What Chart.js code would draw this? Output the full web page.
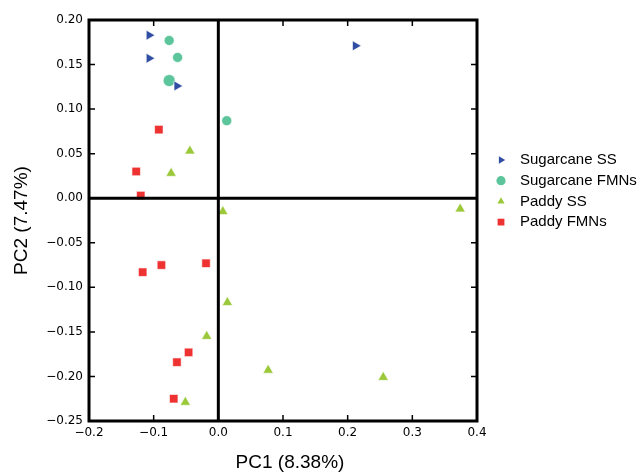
<!DOCTYPE html>
<html>
<head>
<meta charset="utf-8">
<script src="https://cdn.jsdelivr.net/npm/chart.js@4/dist/chart.umd.min.js"></script>
<style>
  html, body { margin: 0; padding: 0; background: #fff; }
  #wrap { width: 643px; height: 474px; }
</style>
</head>
<body>
<div id="wrap"><canvas id="chart" width="643" height="474"></canvas></div>
<script>
// PCA scores per group
const sugarcaneSS = [
    { x: -0.107, y: 0.183 }, { x: -0.107, y: 0.157 },
    { x: -0.064, y: 0.126 }, { x: 0.212, y: 0.171 }
];
const sugarcaneFMNs = [
    { x: -0.076, y: 0.177 }, { x: -0.063, y: 0.158 },
    { x: -0.076, y: 0.132 }, { x: 0.013, y: 0.087 }
];
const paddySS = [
    { x: -0.044, y: 0.053 }, { x: -0.073, y: 0.028 }, { x: 0.007, y: -0.015 },
    { x: 0.374, y: -0.012 }, { x: 0.014, y: -0.117 }, { x: -0.018, y: -0.155 },
    { x: 0.077, y: -0.193 }, { x: -0.051, y: -0.229 }, { x: 0.255, y: -0.201 }
];
const paddyFMNs = [
    { x: -0.092, y: 0.077 }, { x: -0.127, y: 0.030 }, { x: -0.120, y: 0.003 },
    { x: -0.117, y: -0.083 }, { x: -0.088, y: -0.075 }, { x: -0.019, y: -0.073 },
    { x: -0.046, y: -0.173 }, { x: -0.064, y: -0.184 }, { x: -0.069, y: -0.225 }
];
const xTicks = [-0.2, -0.1, 0.0, 0.1, 0.2, 0.3, 0.4];
const yTicks = [0.20, 0.15, 0.10, 0.05, 0.00, -0.05, -0.10, -0.15, -0.20, -0.25];
const xTitle = "PC1 (8.38%)";
const yTitle = "PC2 (7.47%)";

const fmt = (v, d) => (v < -1e-9 ? "\u2212" : "") + Math.abs(v).toFixed(d);
const titleFont = "19px 'Liberation Sans', Arial, sans-serif";

// frame, zero lines, inward ticks on all four sides, axis titles, legend
const framePlugin = {
    id: "frame",
    afterDatasetsDraw(chart) {
        const { ctx, chartArea: a, scales: { x, y } } = chart;
        ctx.save();
        ctx.strokeStyle = "#000";
        ctx.lineWidth = 3;
        const x0 = x.getPixelForValue(0), y0 = y.getPixelForValue(0);
        ctx.beginPath();
        ctx.moveTo(x0, a.top); ctx.lineTo(x0, a.bottom);
        ctx.moveTo(a.left, y0); ctx.lineTo(a.right, y0);
        ctx.stroke();
        ctx.strokeRect(a.left, a.top, a.right - a.left, a.bottom - a.top);
        ctx.lineWidth = 1.5;
        ctx.beginPath();
        xTicks.forEach(v => {
            const px = x.getPixelForValue(v);
            ctx.moveTo(px, a.bottom); ctx.lineTo(px, a.bottom - 6);
            ctx.moveTo(px, a.top); ctx.lineTo(px, a.top + 6);
        });
        yTicks.forEach(v => {
            const py = y.getPixelForValue(v);
            ctx.moveTo(a.left, py); ctx.lineTo(a.left + 6, py);
            ctx.moveTo(a.right, py); ctx.lineTo(a.right - 6, py);
        });
        ctx.stroke();
        ctx.restore();
    },
    afterDraw(chart) {
        const { ctx, chartArea: a } = chart;
        ctx.save();
        ctx.fillStyle = "#000";
        ctx.font = titleFont;
        ctx.textAlign = "center";
        ctx.textBaseline = "middle";
        ctx.fillText(xTitle, 290, 463);
        ctx.translate(22, (a.top + a.bottom) / 2);
        ctx.rotate(-Math.PI / 2);
        ctx.fillText(yTitle, 0, 0);
        ctx.restore();

        ctx.save();
        ctx.font = "15px 'Liberation Sans', Arial, sans-serif";
        ctx.textBaseline = "middle";
        chart.data.datasets.forEach((ds, i) => {
            const cy = 160 + i * 20.7;
            ctx.fillStyle = ds.backgroundColor;
            ctx.strokeStyle = ds.backgroundColor;
            Chart.helpers.drawPoint(ctx, {
                pointStyle: ds.pointStyle, radius: ds.legendRadius,
                rotation: ds.pointRotation, borderWidth: 0
            }, 501, cy);
            ctx.fillStyle = "#000";
            ctx.fillText(ds.label, 520, cy);
        });
        ctx.restore();
    }
};

new Chart(document.getElementById("chart"), {
    type: "scatter",
    data: {
        datasets: [
            { label: "Sugarcane SS", data: sugarcaneSS, pointStyle: "triangle", pointRotation: 90,
              backgroundColor: "#2f4ea3", pointRadius: 5.8, legendRadius: 4.2 },
            { label: "Sugarcane FMNs", data: sugarcaneFMNs, pointStyle: "circle",
              backgroundColor: "#5cc59b", pointRadius: [5, 5, 6, 5], legendRadius: 4.6 },
            { label: "Paddy SS", data: paddySS, pointStyle: "triangle",
              backgroundColor: "#9bc93a", pointRadius: 6, legendRadius: 4.2 },
            { label: "Paddy FMNs", data: paddyFMNs, pointStyle: "rect",
              backgroundColor: "#ee3232", pointRadius: 6, legendRadius: 4.8 }
        ].map(ds => Object.assign(ds, {
            pointRotation: ds.pointRotation || 0,
            pointBorderColor: "#ffffff",
            pointBorderWidth: 0.6,
            pointHoverRadius: ds.pointRadius
        }))
    },
    options: {
        responsive: false,
        animation: false,
        layout: { padding: { left: 0, right: 166, top: 20, bottom: 0 } },
        plugins: { legend: { display: false }, tooltip: { enabled: false } },
        scales: {
            x: {
                type: "linear", min: -0.2, max: 0.4,
                afterBuildTicks: s => { s.ticks = xTicks.map(v => ({ value: v })); },
                afterFit: s => { s.height = 53; },
                grid: { display: false, tickLength: 2 },
                border: { display: false },
                ticks: {
                    padding: 3, color: "#000",
                    font: { family: "'DejaVu Sans'", size: 12 },
                    callback: v => fmt(v, 1)
                }
            },
            y: {
                type: "linear", min: -0.25, max: 0.20,
                afterBuildTicks: s => { s.ticks = yTicks.map(v => ({ value: v })); },
                afterFit: s => { s.width = 89; },
                grid: { display: false, tickLength: 6 },
                border: { display: false },
                ticks: {
                    padding: 0, color: "#000",
                    font: { family: "'DejaVu Sans'", size: 12 },
                    callback: v => fmt(v, 2)
                }
            }
        }
    },
    plugins: [framePlugin]
});
</script>
</body>
</html>
